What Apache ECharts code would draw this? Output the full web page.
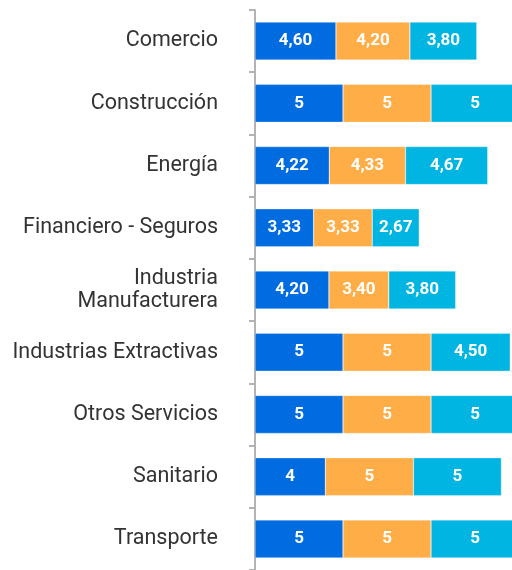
<!DOCTYPE html>
<html>
<head>
<meta charset="utf-8">
<script src="https://cdn.jsdelivr.net/npm/echarts@6/dist/echarts.min.js"></script>
<style>
  html, body { margin: 0; padding: 0; background: #fff; }
  #chart { width: 512px; height: 570px; }
</style>
</head>
<body>
<div id="chart"></div>
<script>
// categorías y valores por serie
const categories = [
  "Comercio",
  "Construcción",
  "Energía",
  "Financiero - Seguros",
  "Industria\nManufacturera",
  "Industrias Extractivas",
  "Otros Servicios",
  "Sanitario",
  "Transporte"
];
const serieA = [4.6, 5, 4.22, 3.33, 4.2, 5, 5, 4, 5];
const serieB = [4.2, 5, 4.33, 3.33, 3.4, 5, 5, 5, 5];
const serieC = [3.8, 5, 4.67, 2.67, 3.8, 4.5, 5, 5, 5];
const colors = ["#006ce0", "#ffad47", "#00b5e2"];

const fmt = (p) => {
  const v = p.value;
  return Number.isInteger(v) ? String(v) : v.toFixed(2).replace(".", ",");
};

const makeSeries = (data, i) => ({
  type: "bar",
  stack: "total",
  data: data,
  barWidth: 38,
  clip: false,
  itemStyle: { color: colors[i], borderColor: "rgba(255,255,255,0.6)", borderWidth: 0.5 },
  label: {
    show: true,
    position: "inside",
    color: "#fff",
    fontWeight: "bold",
    fontSize: 17,
    fontFamily: "Roboto",
    formatter: fmt
  }
});

const chart = echarts.init(document.getElementById("chart"));
chart.setOption({
  animation: false,
  grid: { left: 255, right: 0, top: 10, bottom: 0, containLabel: false },
  xAxis: {
    type: "value",
    min: 0,
    max: 14.6,
    show: false
  },
  yAxis: {
    type: "category",
    data: categories,
    inverse: true,
    axisLine: { show: true, lineStyle: { color: "#b3b3b3", width: 2 } },
    axisTick: { show: true, length: 6, lineStyle: { color: "#b3b3b3", width: 2 } },
    axisLabel: {
      color: "#333",
      fontSize: 21.5,
      fontFamily: "Roboto",
      margin: 37,
      lineHeight: 23,
      align: "right"
    }
  },
  series: [makeSeries(serieA, 0), makeSeries(serieB, 1), makeSeries(serieC, 2)]
});
</script>
</body>
</html>
